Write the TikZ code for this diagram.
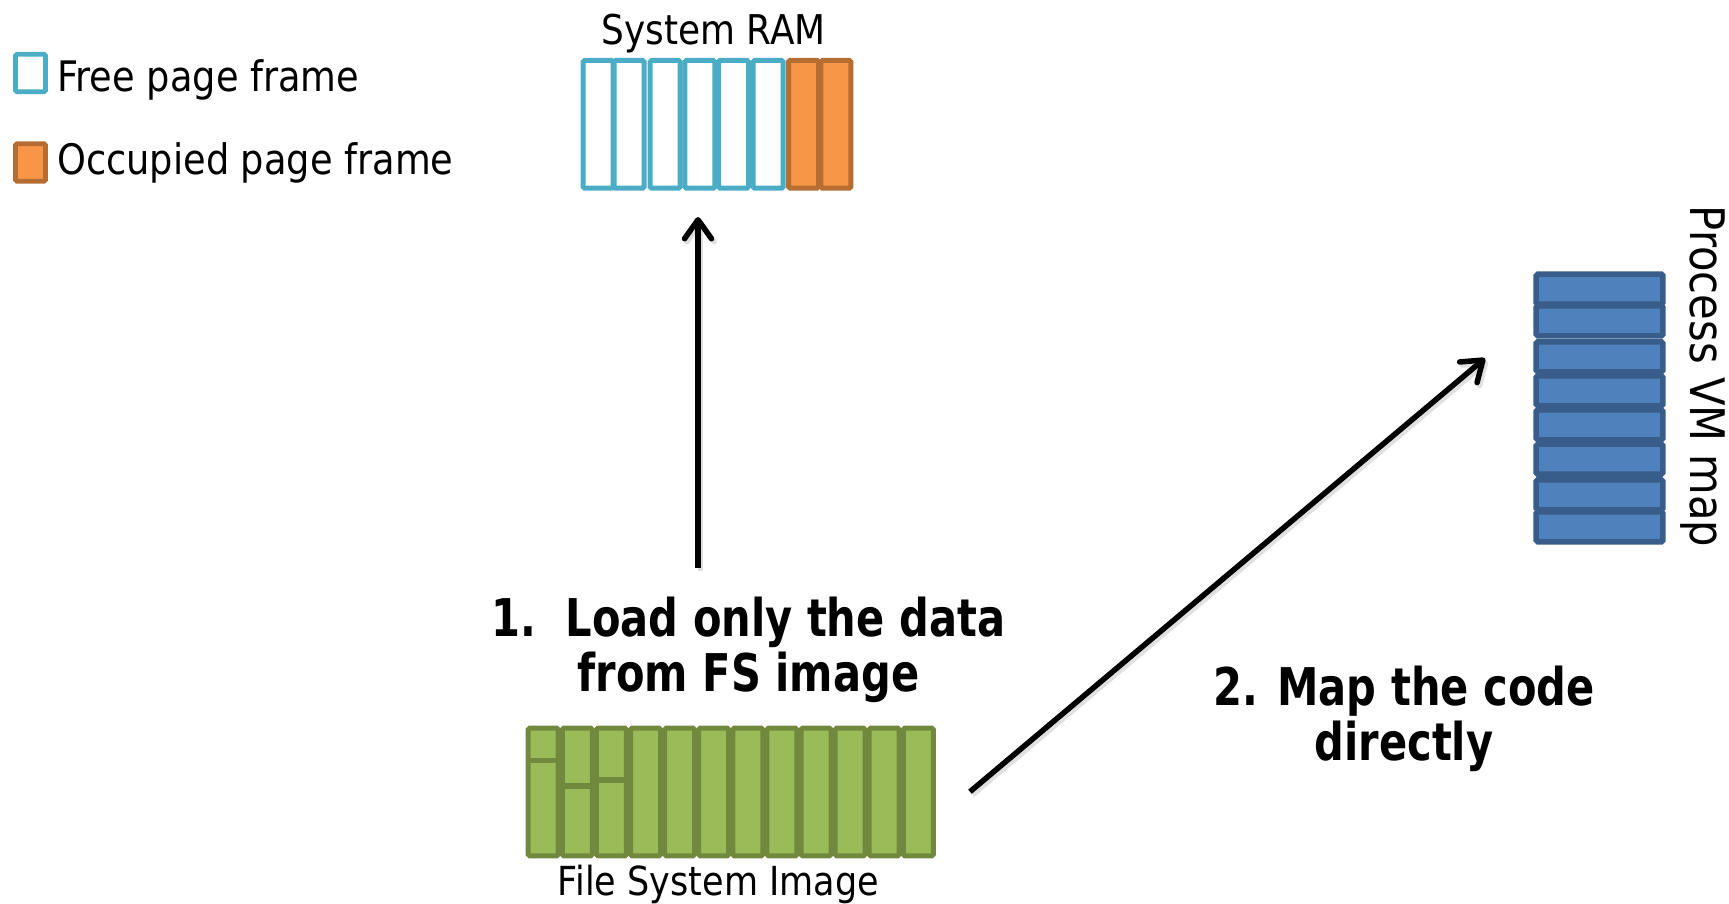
\documentclass[tikz,border=0pt]{standalone}
\usepackage{fontspec}
\setmainfont{DejaVu Sans}[FakeStretch=0.875]
\newfontfamily\stepfont{DejaVu Sans}[FakeStretch=0.8]
\usetikzlibrary{arrows.meta}

\definecolor{freeline}{HTML}{4BACC6}
\definecolor{busyfill}{HTML}{F79646}
\definecolor{busyline}{HTML}{B66D31}
\definecolor{fsfill}{HTML}{9BBB59}
\definecolor{fsline}{HTML}{71893F}
\definecolor{vmfill}{HTML}{4F81BD}
\definecolor{vmline}{HTML}{385D8A}

\tikzset{
  frame/.style={line width=5pt, rounded corners=1.5pt},
  freeframe/.style={frame, draw=freeline, fill=white},
  busyframe/.style={frame, draw=busyline, fill=busyfill},
  fsblock/.style={frame, draw=fsline, fill=fsfill},
  vmslot/.style={line width=5.5pt, rounded corners=1.5pt, draw=vmline, fill=vmfill},
  keybox/.style={line width=4.7pt, rounded corners=1.5pt, inner sep=0pt,
                 minimum width=30pt, minimum height=37.5pt},
  lbl/.style={inner sep=0pt, font=\fontsize{42}{50}\selectfont},
  steplbl/.style={inner sep=0pt, align=center,
                  font=\stepfont\bfseries\fontsize{52}{55}\selectfont},
  flow/.style={line width=5.5pt, -{Straight Barb[length=19pt,width=27pt,round]}},
  flowshade/.style={line width=5.5pt, draw=black, opacity=0.12,
                    -{Straight Barb[length=19pt,width=27pt,round]}}
}

\begin{document}
\begin{tikzpicture}[x=1pt,y=-1pt]
\useasboundingbox (0,0) rectangle (1729,904);

% legend
\node[keybox, draw=freeline, fill=white] (freekey) at (30.5,73) {};
\node[keybox, draw=busyline, fill=busyfill] (busykey) at (30.5,162.5) {};
\node[lbl, anchor=base west] (freetext) at (57,92) {Free page frame};
\node[lbl, anchor=base west] (busytext) at (57,175) {Occupied page frame};

% system RAM: six free frames, two occupied
\node[lbl, font=\fontsize{41}{49}\selectfont, anchor=base] (ramtitle) at (713.5,45) {System RAM};
\foreach \x in {583.2,614.2,650.2,684.8,718.5,753.2}
  \draw[freeframe] (\x,60.5) rectangle ++(30,127.7);
\foreach \x in {788.5,820.8}
  \draw[busyframe] (\x,60.5) rectangle ++(30,127.7);

% file system image: twelve blocks, the first three split
\foreach \i in {0,...,11}
  \draw[fsblock] ({528.2+34.1*\i},728.2) rectangle ++(30,127.6);
\draw[fsline, line width=5.5pt] (528.2,760.5) -- (558.2,760.5);
\draw[fsline, line width=5.5pt] (562.3,786) -- (592.3,786);
\draw[fsline, line width=5.5pt] (596.4,780) -- (626.4,780);
\node[lbl, font=\fontsize{40}{48}\selectfont, anchor=base] (fstitle) at (718.4,895) {File System Image};

% process VM map: eight pages
\foreach \y in {274.2,305.8,341.8,375.8,409.8,444.2,479.8,511.8}
  \draw[vmslot] (1536.2,\y) rectangle ++(126.6,30);
\node[lbl, font=\fontsize{47.6}{56}\selectfont, rotate=-90, anchor=base] (vmtitle) at (1690,376.5) {Process VM map};

% connector end points
\coordinate (fsTop) at (698,568);
\coordinate (ramBottom) at (698,217);
\coordinate (fsRight) at (970,791.7);
\coordinate (vmLeft) at (1485,358.3);

% connectors with a faint shadow
\draw[flowshade] ([shift={(2.5,3)}]fsTop) -- ([shift={(2.5,3)}]ramBottom);
\draw[flowshade] ([shift={(2.5,3)}]fsRight) -- ([shift={(2.5,3)}]vmLeft);
\draw[flow] (fsTop) -- (ramBottom);
\draw[flow] (fsRight) -- (vmLeft);

% step labels (base anchor sits on the last line)
\node[steplbl, anchor=base] (stepone) at (748.5,691) {1.\ \ Load only the data\\from FS image};
\node[steplbl, anchor=base] (steptwo) at (1404,760) {2. Map the code\\directly};
\end{tikzpicture}
\end{document}
